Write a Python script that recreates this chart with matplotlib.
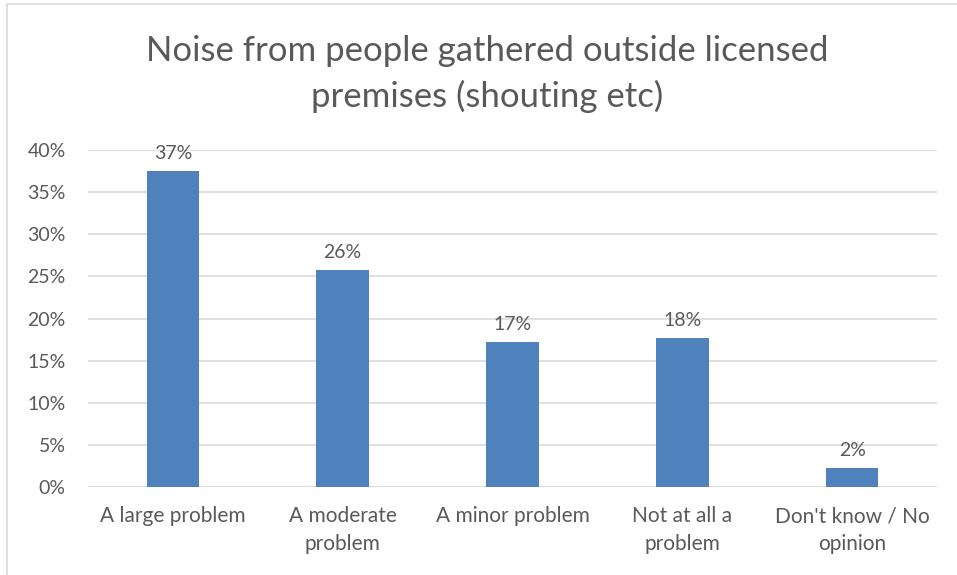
import matplotlib
matplotlib.use("Agg")
import matplotlib.pyplot as plt
from matplotlib.patches import Rectangle

categories = ["A large problem", "A moderate\nproblem", "A minor problem", "Not at all a\nproblem", "Don't know / No\nopinion"]
values = [37.5, 25.7, 17.2, 17.7, 2.2]
labels = ["37%", "26%", "17%", "18%", "2%"]
yticks = [0, 5, 10, 15, 20, 25, 30, 35, 40]

plt.rcParams['font.family'] = ['Lato', 'DejaVu Sans']
txt = "#595959"

fig = plt.figure(figsize=(9.57, 5.75), dpi=100)
fig.patches.append(Rectangle((7/957, -0.1), 1.2, 1 - 4/575 + 0.1, transform=fig.transFigure,
                             fill=False, edgecolor="#D9D9D9", linewidth=1.2))
ax = fig.add_axes([88/957, 1 - 487/575, (937 - 88)/957, (487 - 150)/575])
x = range(len(categories))
ax.bar(x, values, width=0.31, color="#4F81BD", zorder=3)
for xi, v, l in zip(x, values, labels):
    ax.text(xi, v + 1.1, l, ha="center", va="bottom", fontsize=14, color=txt)
ax.set_ylim(0, 40)
ax.set_xlim(-0.5, len(categories) - 0.5)
ax.set_yticks(yticks)
ax.set_yticklabels([f"{t}%" for t in yticks], fontsize=14, color=txt)
ax.set_xticks(list(x))
ax.set_xticklabels(categories, fontsize=15, color=txt, linespacing=1.5)
ax.tick_params(axis="x", length=0, pad=14)
ax.tick_params(axis="y", length=0, pad=16)
ax.grid(axis="y", color="#D9D9D9", linewidth=1.2, zorder=0)
for s in ax.spines.values():
    s.set_visible(False)
ax.axhline(0, color="#D9D9D9", linewidth=1.2, zorder=1)
fig.text(487/957, 1 - 74/575, "Noise from people gathered outside licensed\npremises (shouting etc)",
         ha="center", va="center", fontsize=25, color=txt, linespacing=1.45)
fig.savefig("out.png", dpi=100)
